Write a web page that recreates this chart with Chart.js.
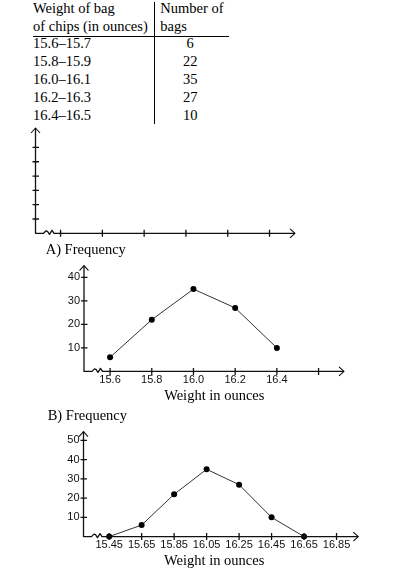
<!DOCTYPE html>
<html><head><meta charset="utf-8">
<script src="https://cdn.jsdelivr.net/npm/chart.js@4.4.1/dist/chart.umd.min.js"></script>
<style>
html,body{margin:0;padding:0;background:#fff;}
body{width:408px;height:574px;position:relative;overflow:hidden;font-family:"Liberation Serif","Times New Roman",serif;font-size:14.5px;color:#000;}
.t{position:absolute;white-space:nowrap;line-height:17.8px;}
.box{position:absolute;left:0;width:408px;}
.rule{position:absolute;background:#000;}
</style></head><body>
<div id="table"></div>
<div class="rule" style="left:33px;top:35.5px;width:196px;height:1px"></div>
<div class="rule" style="left:154px;top:2px;width:1.3px;height:122px"></div>
<div class="box" style="top:118px;height:125px"><canvas id="c0"></canvas></div>
<div class="t" style="left:45.7px;top:241.2px">A) Frequency</div>
<div class="box" style="top:255px;height:150px"><canvas id="c1"></canvas></div>
<div class="t" style="left:0;width:428.6px;text-align:center;top:386.7px">Weight in ounces</div>
<div class="t" style="left:47.7px;top:406.9px">B) Frequency</div>
<div class="box" style="top:421px;height:153px"><canvas id="c2"></canvas></div>
<div class="t" style="left:0;width:428.4px;text-align:center;top:552.2px">Weight in ounces</div>
<script>
// ---- data ----
const headerLeft = ['Weight of bag', 'of chips (in ounces)'];
const headerRight = ['Number of', 'bags'];
const weightClasses = ['15.6–15.7', '15.8–15.9', '16.0–16.1', '16.2–16.3', '16.4–16.5'];
const bagCounts = [6, 22, 35, 27, 10];

const blankXTicks = [0.6, 1.6, 2.6, 3.6, 4.6, 5.6];
const blankYTicks = [1, 2, 3, 4, 5, 6];

const aWeights = [15.6, 15.8, 16.0, 16.2, 16.4];
const aFreq = [6, 22, 35, 27, 10];
const aXTicks = [15.6, 15.8, 16.0, 16.2, 16.4, 16.6];
const aXTickLabels = ['15.6', '15.8', '16.0', '16.2', '16.4', ''];
const aYTicks = [10, 20, 30, 40];

const bWeights = [15.45, 15.65, 15.85, 16.05, 16.25, 16.45, 16.65];
const bFreq = [0, 6, 22, 35, 27, 10, 0];
const bXTicks = [15.45, 15.65, 15.85, 16.05, 16.25, 16.45, 16.65, 16.85];
const bXTickLabels = ['15.45', '15.65', '15.85', '16.05', '16.25', '16.45', '16.65', '16.85'];
const bYTicks = [10, 20, 30, 40, 50];

// ---- table ----
(function(){
  const tb = document.getElementById('table');
  const top0 = -0.3, lh = 17.8;
  function add(txt, left, row, center){
    const d = document.createElement('div');
    d.className = 't';
    d.textContent = txt;
    d.style.top = (top0 + row*lh) + 'px';
    if (center) { d.style.left = (center-30)+'px'; d.style.width='60px'; d.style.textAlign='center'; }
    else d.style.left = left + 'px';
    tb.appendChild(d);
  }
  headerLeft.forEach((s,i)=>add(s,33,i));
  headerRight.forEach((s,i)=>add(s,160.3,i));
  weightClasses.forEach((s,i)=>add(s,33,i+2));
  bagCounts.forEach((v,i)=>add(String(v),0,i+2,190.2));
})();

// ---- hand-drawn style axes ----
const handAxes = {
  id: 'handAxes',
  afterDraw(chart, args, o) {
    const ctx = chart.ctx, a = chart.chartArea, xs = chart.scales.x, ys = chart.scales.y;
    const L = a.left, B = a.bottom, T = a.top, R = a.right;
    ctx.save();
    ctx.strokeStyle = '#111';
    ctx.lineWidth = 1.3;
    ctx.lineJoin = 'round';
    ctx.beginPath();
    ctx.moveTo(L, T); ctx.lineTo(L, B);
    const s = L + o.b0;
    ctx.lineTo(s, B);
    ctx.lineTo(s + 2.5, B - 2.5);
    ctx.lineTo(s + 4, B - 2);
    ctx.lineTo(s + 6, B + 1);
    ctx.lineTo(s + 8.5, B - 3);
    ctx.lineTo(s + 10.5, B);
    ctx.lineTo(R, B);
    ctx.stroke();
    ctx.lineWidth = 1.1;
    ctx.beginPath();
    ctx.moveTo(R - 5, B - 4.5); ctx.lineTo(R, B); ctx.lineTo(R - 5, B + 4.5);
    ctx.moveTo(L - 4.5, T + 5); ctx.lineTo(L, T); ctx.lineTo(L + 4.5, T + 5);
    ctx.stroke();
    ctx.lineWidth = 1.3;
    ctx.beginPath();
    ys.ticks.forEach(t => { const y = ys.getPixelForValue(t.value); ctx.moveTo(L - 3, y); ctx.lineTo(L + 3.5, y); });
    xs.ticks.forEach(t => { const x = xs.getPixelForValue(t.value); ctx.moveTo(x, B - 3.5); ctx.lineTo(x, B + 3.5); });
    ctx.stroke();
    ctx.restore();
  }
};

const tickFont = { family: '"Liberation Sans", Arial, sans-serif', size: 11 };

function makeChart(id, cfg) {
  return new Chart(document.getElementById(id), {
    type: 'scatter',
    data: { datasets: cfg.datasets },
    options: {
      responsive: true, maintainAspectRatio: false, animation: false,
      layout: { padding: cfg.pad },
      plugins: { legend: { display: false }, tooltip: { enabled: false }, handAxes: { b0: cfg.b0 } },
      scales: {
        x: {
          type: 'linear', min: cfg.xmin, max: cfg.xmax,
          grid: { display: false, drawTicks: false }, border: { display: false },
          afterBuildTicks: sc => { sc.ticks = cfg.xTicks.map(v => ({ value: v })); },
          afterFit: sc => { sc.height = cfg.xh; },
          ticks: { display: cfg.showLabels, autoSkip: false, maxRotation: 0, minRotation: 0, padding: 2,
                   font: tickFont, color: '#111', callback: (v, i) => cfg.xLabels ? cfg.xLabels[i] : '' }
        },
        y: {
          type: 'linear', min: 0, max: cfg.ymax,
          grid: { display: false, drawTicks: false }, border: { display: false },
          afterBuildTicks: sc => { sc.ticks = cfg.yTicks.map(v => ({ value: v })); },
          afterFit: sc => { sc.width = cfg.yw; },
          ticks: { display: cfg.showLabels, autoSkip: false, padding: 4, font: tickFont, color: '#111',
                   callback: v => String(v) }
        }
      }
    },
    plugins: [handAxes]
  });
}

function series(xs, ys) {
  return [{
    data: xs.map((x, i) => ({ x: x, y: ys[i] })),
    showLine: true, borderColor: '#333', borderWidth: 1, tension: 0,
    pointRadius: 3, pointBackgroundColor: '#000', pointBorderColor: '#000', pointBorderWidth: 0,
    clip: false
  }];
}

makeChart('c0', {
  datasets: [], xmin: 0, xmax: 6.21, ymax: 7.36,
  xTicks: blankXTicks, yTicks: blankYTicks, showLabels: false,
  pad: { left: 0, right: 113, top: 10, bottom: 9.7 }, xh: 0, yw: 35.5, b0: 8
});

makeChart('c1', {
  datasets: series(aWeights, aFreq), xmin: 15.475, xmax: 16.722, ymax: 45,
  xTicks: aXTicks, xLabels: aXTickLabels, yTicks: aYTicks, showLabels: true,
  pad: { left: 0, right: 64, top: 10, bottom: 13.6 }, xh: 20, yw: 84, b0: 8
});

makeChart('c2', {
  datasets: series(bWeights, bFreq), xmin: 15.292, xmax: 16.984, ymax: 54.6,
  xTicks: bXTicks, xLabels: bXTickLabels, yTicks: bYTicks, showLabels: true,
  pad: { left: 0, right: 49.7, top: 10, bottom: 17.4 }, xh: 20, yw: 83.5, b0: 8
});
</script>
</body></html>
